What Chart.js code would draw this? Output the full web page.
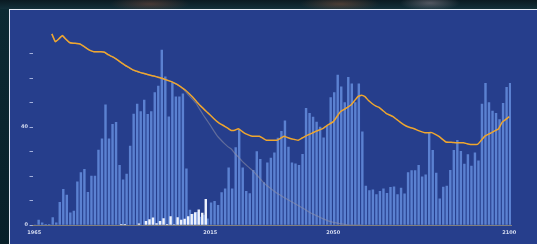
<!DOCTYPE html>
<html>
<head>
<meta charset="utf-8">
<style>
  html, body { margin: 0; padding: 0; }
  body {
    width: 537px; height: 244px; overflow: hidden; position: relative;
    background: #0b1f29;
  }
  .topstrip {
    position: absolute; left: 0; top: 0; width: 537px; height: 9px;
    background:
      radial-gradient(ellipse 40px 8px at 150px 4px, rgba(140,80,60,0.45), transparent),
      radial-gradient(ellipse 40px 8px at 340px 4px, rgba(150,90,60,0.45), transparent),
      radial-gradient(ellipse 30px 8px at 430px 3px, rgba(150,140,150,0.5), transparent),
      linear-gradient(#0a1a22, #12303a);
  }
  .leftstrip {
    position: absolute; left: 0; top: 9px; width: 9px; height: 235px;
    background: linear-gradient(#0c2a33, #082029);
  }
  .panel {
    position: absolute; left: 9px; top: 9px; width: 528px; height: 235px;
    background: #263e8c;
    border-top: 1px solid #e6ecf6;
    border-left: 1px solid #dfe6f2;
    box-sizing: border-box;
  }
  #chart { position: absolute; left: 0; top: 0; }
</style>
</head>
<body>
<div class="topstrip"></div>
<div class="leftstrip"></div>
<div class="panel"></div>
<canvas id="chart" width="537" height="244"></canvas>

<script src="https://cdn.jsdelivr.net/npm/chart.js"></script>
<script>
// categories: one per year
const firstYear = 1965;
const lastYear = 2100;
const years = [];
for (let y = firstYear; y <= lastYear; y++) years.push(String(y));

const xTickYears = ['1965', '2015', '2050', '2100'];
const yTickLabels = [0, 40];

// blue bars, 1965..2100
const blueValues = [
  0, 2.0, 0.9, 0.3, 0.3, 3.0, 0.9, 9.3, 14.6, 12.2,
  5.0, 5.7, 17.6, 21.4, 22.7, 13.3, 20, 20, 30.6, 35.2,
  49, 35.2, 41.1, 41.9, 24.4, 18.4, 20.8, 32.2, 45.3, 49.4,
  46.3, 51, 45.2, 46.3, 54, 56.7, 71.4, 60.5, 44.2, 58,
  52.3, 52.3, 53.5, 22.9, 6.1, 4.5, 5.2, 3.2, 4, 2.5,
  9.1, 9.7, 8, 13.2, 14.8, 23.3, 14.8, 31.6, 38.6, 23.3,
  13.7, 12.8, 22.3, 30, 26.8, 17.3, 25.4, 27.3, 29.5, 35.5,
  38.2, 42.5, 31.8, 25.4, 25, 24.4, 28.8, 47.6, 45.6, 44,
  42, 40, 35.6, 40.5, 52, 54, 61.2, 56.4, 50, 60.3,
  57.6, 50, 57.6, 38, 15.9, 14.1, 14.4, 12.4, 13.7, 14.8,
  12.9, 15.4, 15.6, 12.4, 15.1, 12.7, 21.4, 22.2, 22.2, 24.4,
  19.7, 20.5, 37.7, 30.5, 21.2, 10.7, 15.5, 15.9, 22.3, 30.5,
  34.6, 30.1, 24.9, 28.7, 24.1, 29.5, 26.2, 49.4, 57.8, 50,
  46.5, 45.6, 43, 49.7, 56.2, 57.8
];

// white bars (only a few years)
const whiteYears = [1990, 1991, 1995, 1997, 1998, 1999, 2000, 2001, 2002, 2003,
  2004, 2005, 2006, 2007, 2008, 2009, 2010, 2011, 2012, 2013, 2014];
const whiteValues = [0.3, 0.3, 0.5, 1.5, 2.2, 2.9, 0.6, 1.5, 2.6, 0.3,
  3.4, 0.2, 3.0, 2.0, 2.4, 3.4, 4.4, 5.1, 6.2, 4.9, 10.5];

// orange line, from 1970
const orangeStart = 1970;
const orangeValues = [
  78, 74.8, 76, 77.3, 75.8, 74.5, 74.2, 74.1, 73.9, 73,
  72, 71.2, 70.7, 70.7, 70.7, 70.5, 69.5, 68.8, 68, 67,
  66, 65, 64.2, 63.3, 62.8, 62.3, 61.9, 61.5, 61.1, 60.8,
  60.4, 60, 59.5, 59, 58.5, 57.8, 57, 56, 55, 53.7,
  52.2, 50.6, 49, 47.6, 46.2, 44.9, 43.5, 42.2, 41.2, 40.4,
  39.5, 38.6, 38.7, 39.3, 38.3, 37.3, 36.7, 36.2, 36.2, 36.2,
  35.4, 34.6, 34.6, 34.6, 34.6, 35.4, 36.2, 35.7, 35.2, 34.9,
  34.6, 35.4, 36.2, 36.9, 37.5, 38.2, 38.8, 39.3, 40.4, 41.3,
  42.2, 44.2, 46.2, 47.1, 48, 49, 50.7, 52.4, 53, 52.4,
  50.8, 49.6, 48.6, 48, 46.8, 45.6, 44.9, 44.2, 43.1, 42,
  41, 40.2, 39.7, 39.3, 38.6, 38.1, 37.7, 37.7, 37.7, 37,
  36.2, 35, 33.9, 33.8, 33.7, 33.6, 33.6, 33.6, 33.2, 32.9,
  32.9, 32.9, 34.5, 36.2, 37, 37.7, 38.5, 39.3, 42, 43.1,
  44.2
];

// grey line: same path as orange until 2007, then its own values
const greySplit = 2008;
const greyValues = [
  54.5, 52.8, 51.3, 49.7, 47.3, 45, 42.9, 40.8, 38.5, 36.4,
  34.8, 33.3, 32, 31, 29.2, 27.8, 26.2, 24.8, 23.5, 22.3,
  20.8, 19.2, 17.6, 16.2, 15.1, 14, 13, 12.1, 11.2, 10.4,
  9.6, 8.8, 8, 7.1, 6.3, 5.4, 4.6, 4, 3.3, 2.6,
  2, 1.5, 1.1, 0.8, 0.5, 0.3, 0.1, 0, 0, 0, 0
];

// build full-length series
const whiteData = years.map(y => {
  const i = whiteYears.indexOf(Number(y));
  return i >= 0 ? whiteValues[i] : null;
});
const orangeData = years.map(y => {
  const i = Number(y) - orangeStart;
  return i >= 0 && i < orangeValues.length ? orangeValues[i] : null;
});
const greyData = years.map(y => {
  const yr = Number(y);
  if (yr < greySplit) return yr >= orangeStart ? orangeValues[yr - orangeStart] : null;
  const i = yr - greySplit;
  return i < greyValues.length ? greyValues[i] : null;
});

const ctx = document.getElementById('chart').getContext('2d');
new Chart(ctx, {
  data: {
    labels: years,
    datasets: [
      {
        type: 'line',
        data: orangeData,
        borderColor: '#efa62e',
        borderWidth: 1.5,
        pointRadius: 0,
        tension: 0.1,
        order: 0
      },
      {
        type: 'line',
        data: greyData,
        borderColor: 'rgba(145,145,165,0.55)',
        borderWidth: 1.2,
        pointRadius: 0,
        tension: 0.1,
        order: 1
      },
      {
        type: 'bar',
        data: blueValues,
        backgroundColor: 'rgba(112,155,235,0.72)',
        categoryPercentage: 1.0,
        barPercentage: 1.0,
        order: 3
      },
      {
        type: 'bar',
        data: whiteData,
        backgroundColor: '#eef2fc',
        categoryPercentage: 1.0,
        barPercentage: 1.0,
        order: 2
      }
    ]
  },
  options: {
    responsive: false,
    animation: false,
    devicePixelRatio: 1,
    layout: { padding: { left: 0, right: 26, top: 29, bottom: 0 } },
    plugins: { legend: { display: false }, tooltip: { enabled: false } },
    scales: {
      x: {
        grid: { display: false, drawTicks: false },
        border: { display: true, color: 'rgba(190,170,115,0.6)', width: 1 },
        afterFit: s => { s.height = 19; },
        ticks: {
          autoSkip: false,
          maxRotation: 0,
          minRotation: 0,
          padding: 5,
          color: '#d5dcf0',
          font: { family: 'DejaVu Sans', size: 5, weight: 'bold' },
          callback: function (v, i) {
            const lab = this.getLabelForValue(v);
            return xTickYears.includes(lab) ? lab : '';
          }
        }
      },
      y: {
        min: 0,
        max: 80,
        border: { display: false },
        grid: {
          display: true,
          drawOnChartArea: false,
          drawTicks: true,
          tickLength: 3,
          color: 'rgba(205,215,245,0.75)',
          lineWidth: 1
        },
        afterFit: s => { s.width = 32.5; },
        afterBuildTicks: s => {
          s.ticks = [0, 10, 20, 30, 40, 50, 60, 70].map(v => ({ value: v }));
        },
        ticks: {
          padding: 1.5,
          color: '#d5dcf0',
          font: { family: 'DejaVu Sans', size: 5, weight: 'bold' },
          callback: v => yTickLabels.includes(v) ? String(v) : ''
        }
      }
    }
  }
});
</script>
</body>
</html>
